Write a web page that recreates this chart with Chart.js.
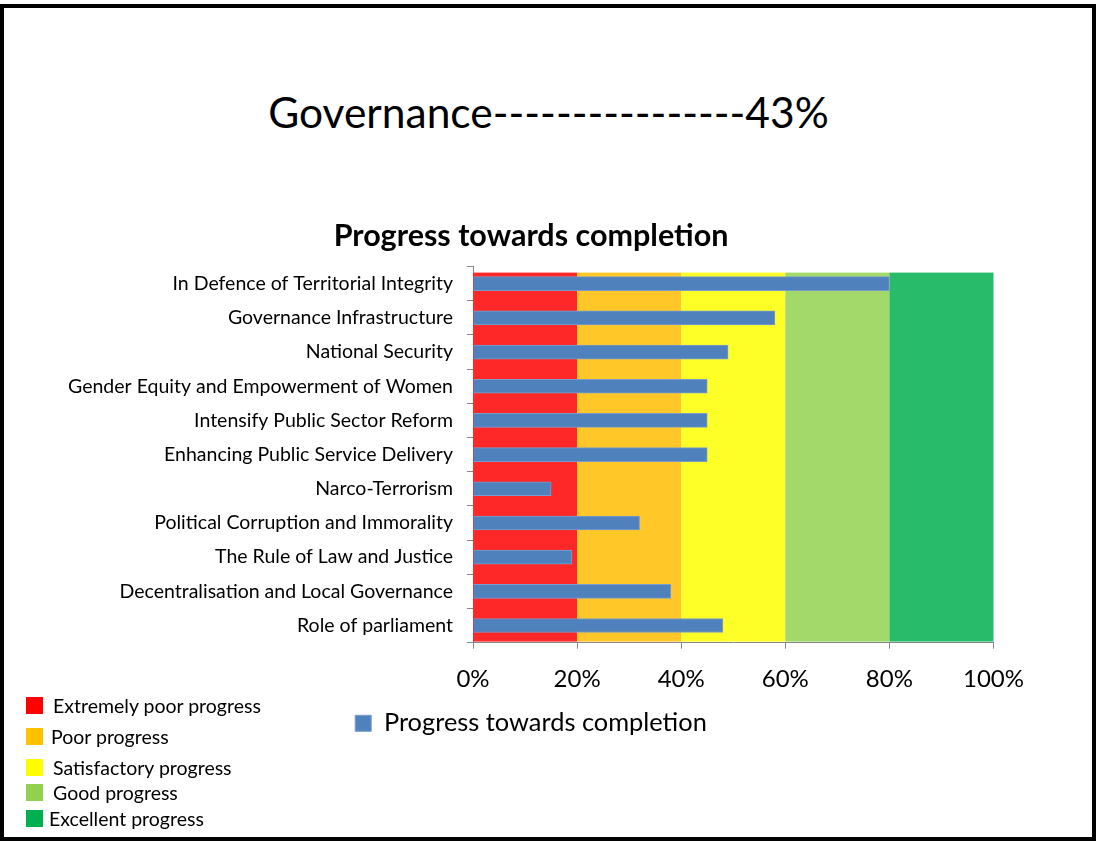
<!DOCTYPE html>
<html>
<head>
<meta charset="utf-8">
<script src="https://cdn.jsdelivr.net/npm/chart.js@4"></script>
<style>
    html, body { margin: 0; padding: 0; background: #fff; }
    body { width: 1097px; height: 842px; position: relative; overflow: hidden; font-family: Lato, "Open Sans", sans-serif; }
    .frame { position: absolute; left: 0; top: 4px; width: 1088px; height: 829px; border: 4px solid #000; }
    .headline { position: absolute; left: 0; width: 1097px; top: 86px; text-align: center; font-size: 42.5px; color: #000; }
    .chart-box { position: absolute; left: 21px; top: 205px; width: 1022px; height: 541px; }
    .scale-key { position: absolute; left: 26px; top: 0; font-size: 19.5px; color: #000; }
    .scale-key div { position: absolute; left: 0; white-space: nowrap; height: 24px; line-height: 24px; padding-left: 27px; }
    .scale-key span { position: absolute; left: 0; top: 3px; width: 17px; height: 17px; }
    .scale-key div:nth-child(1) { top: 694px; }
    .scale-key div:nth-child(2) { top: 725px; padding-left: 25px; }
    .scale-key div:nth-child(3) { top: 756px; }
    .scale-key div:nth-child(4) { top: 781px; }
    .scale-key div:nth-child(5) { top: 807px; padding-left: 23px; }
</style>
</head>
<body>
<div class="frame"></div>
<div class="headline">Governance----------------43%</div>
<div class="chart-box"><canvas id="progressChart"></canvas></div>
<div class="scale-key" id="scaleKey"></div>
<script>
const categories = [
    'In Defence of Territorial Integrity',
    'Governance Infrastructure',
    'National Security',
    'Gender Equity and Empowerment of Women',
    'Intensify Public Sector Reform',
    'Enhancing Public Service Delivery',
    'Narco-Terrorism',
    'Political Corruption and Immorality',
    'The Rule of Law and Justice',
    'Decentralisation and Local Governance',
    'Role of parliament'
];
const progress = [80, 58, 49, 45, 45, 45, 15, 32, 19, 38, 48];

// rating bands behind the bars
const bandEdges = [0, 20, 40, 60, 80, 100];
const bandColors = ['#ff2828', '#ffc828', '#ffff28', '#a3d96a', '#28bb6a'];

const keyLabels = ['Extremely poor progress', 'Poor progress', 'Satisfactory progress', 'Good progress', 'Excellent progress'];
const keyColors = ['#ff0000', '#ffc000', '#ffff00', '#92d050', '#00b050'];

const keyBox = document.getElementById('scaleKey');
keyLabels.forEach((label, i) => {
    const row = document.createElement('div');
    const swatch = document.createElement('span');
    swatch.style.background = keyColors[i];
    row.appendChild(swatch);
    row.appendChild(document.createTextNode(label));
    keyBox.appendChild(row);
});

const bandPlugin = {
    id: 'bands',
    beforeDatasetsDraw(chart) {
        const { ctx, chartArea, scales } = chart;
        ctx.save();
        for (let i = 0; i < bandColors.length; i++) {
            const x1 = scales.x.getPixelForValue(bandEdges[i]);
            const x2 = scales.x.getPixelForValue(bandEdges[i + 1]);
            ctx.fillStyle = bandColors[i];
            ctx.fillRect(x1, chartArea.top + 6, x2 - x1, chartArea.bottom - chartArea.top - 7);
        }
        ctx.restore();
    }
};

Chart.defaults.font.family = 'Lato, "Open Sans", sans-serif';
Chart.defaults.color = '#000';

const ctx = document.getElementById('progressChart').getContext('2d');
new Chart(ctx, {
    type: 'bar',
    data: {
        labels: categories,
        datasets: [{
            label: 'Progress towards completion',
            data: progress,
            backgroundColor: '#4f81bd',
            borderColor: '#7a9ccc',
            borderWidth: 1,
            barThickness: 14,
        }],
    },
    options: {
        indexAxis: 'y',
        responsive: true,
        maintainAspectRatio: false,
        animation: false,
        layout: { padding: { left: 0, right: 2, top: 0, bottom: 0 } },
        scales: {
            x: {
                min: 0,
                max: 100,
                ticks: {
                    stepSize: 20,
                    callback: (v) => v + '%',
                    font: { size: 24, lineHeight: 1 },
                    padding: 19,
                },
                grid: { drawOnChartArea: false, drawTicks: true, tickLength: 6, color: '#868686' },
                border: { color: '#868686' },
            },
            y: {
                // wide label column so the title and legend sit over the whole chart
                afterFit: (scale) => { scale.width = 452; },
                ticks: { font: { size: 19.5 }, padding: 14 },
                grid: { drawOnChartArea: false, drawTicks: true, tickLength: 6, color: '#868686' },
                border: { color: '#868686' },
            },
        },
        plugins: {
            title: {
                display: true,
                text: 'Progress towards completion',
                font: { size: 30.5, weight: 'bold' },
                padding: { top: 13, bottom: 12 },
            },
            legend: {
                position: 'bottom',
                labels: { boxWidth: 16, boxHeight: 16, font: { size: 25.4 }, padding: 0 },
            },
            tooltip: { enabled: false },
        },
    },
    plugins: [bandPlugin],
});
</script>
</body>
</html>
